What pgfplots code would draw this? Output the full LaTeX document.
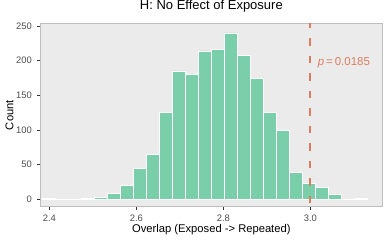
\documentclass[border=0pt]{standalone}
\usepackage{fontspec}
\setmainfont{Liberation Sans}
\usepackage{pgfplots}
\pgfplotsset{compat=1.18}
\definecolor{panelbg}{HTML}{EBEBEB}
\definecolor{barfill}{RGB}{122,207,170}
\definecolor{vline}{RGB}{222,124,96}
\definecolor{border}{RGB}{190,190,190}
\definecolor{ticktext}{HTML}{4D4D4D}
\definecolor{tickmark}{HTML}{333333}
\begin{document}
\begin{tikzpicture}
\useasboundingbox (-40bp,-36.3bp) rectangle (349bp,206.7bp);
\begin{axis}[
  at={(0,0)}, anchor=south west,
  scale only axis, width=342.7bp, height=183.2bp,
  xmin=2.3786, xmax=3.1664, ymin=-11.1, ymax=253.6,
  axis background/.style={fill=panelbg},
  axis line style={draw=border, line width=1bp},
  xtick={2.4,2.6,2.8,3.0}, xticklabels={2.4,2.6,2.8,3.0},
  ytick={0,50,100,150,200,250},
  xtick pos=bottom, ytick pos=left,
  tick align=outside, major tick length=3bp,
  tick style={draw=tickmark, line width=0.6bp},
  minor tick num=0,
  /pgf/number format/assume math mode=true,
  tick label style={font=\fontsize{9.4bp}{11bp}\selectfont, text=ticktext},
  xticklabel style={anchor=base, inner sep=0pt, yshift=-11.6bp},
  yticklabel style={anchor=east, inner sep=0pt, xshift=-5bp},
  title={H: No Effect of Exposure},
  title style={font=\fontsize{13bp}{15bp}\selectfont, at={(axis description cs:0.5,1)}, anchor=base, yshift=7.8bp, inner sep=0pt},
  xlabel={Overlap (Exposed -> Repeated)},
  xlabel style={font=\fontsize{11.2bp}{13bp}\selectfont, at={(axis description cs:0.5,0)}, anchor=base, yshift=-25.6bp, inner sep=0pt},
  ylabel={Count},
  ylabel style={font=\fontsize{11.2bp}{13bp}\selectfont, at={(axis description cs:-0.0779,0.5)}, anchor=base, inner sep=0pt},
]
\addplot[ybar, bar width=0.0299, fill=barfill, draw=white, line width=0.8bp] coordinates {
(2.4000,1) (2.4299,0) (2.4598,0) (2.4896,1) (2.5195,2) (2.5494,8)
(2.5793,19) (2.6092,44) (2.6390,64) (2.6689,125) (2.6988,185)
(2.7287,180) (2.7586,214) (2.7884,216) (2.8183,240) (2.8482,208)
(2.8781,174) (2.9080,125) (2.9378,99) (2.9677,39) (2.9976,22)
(3.0275,17) (3.0574,6) (3.0872,0) (3.1171,1)
};
\addplot[vline, line width=2.2bp, dash pattern=on 7.5bp off 10bp, dash phase=2.7bp] coordinates {(3.0,253.6) (3.0,-11.1)};
\node[anchor=base west, text=vline, font=\fontsize{11.5bp}{13bp}\selectfont, inner sep=0pt] at (axis cs:3.017,193.6) {\textit{p}\,=\,0.0185};
\end{axis}
\end{tikzpicture}
\end{document}
